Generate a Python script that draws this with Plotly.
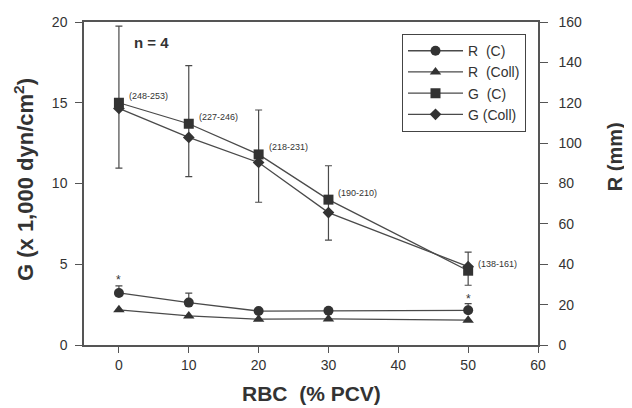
import plotly.graph_objects as go
from plotly.subplots import make_subplots

# ---- data ----
rbc = [0, 10, 20, 30, 50]
g_c = [15.0, 13.7, 11.8, 9.0, 4.6]
g_c_err_plus = [4.75, 3.6, 2.75, 2.1, 1.15]
g_c_err_minus = [4.05, 3.27, 2.96, 2.5, 0.9]
g_coll = [14.65, 12.85, 11.3, 8.2, 4.85]
r_c = [25.8, 21.0, 16.8, 17.0, 17.2]
r_c_err_plus = [3.5, 4.7, 1.2, 0.0, 3.3]
r_coll = [17.4, 14.4, 12.8, 12.9, 12.3]
range_labels = ["(248-253)", "(227-246)", "(218-231)", "(190-210)", "(138-161)"]
star_x = [0, 50]
star_r = [32.0, 23.0]

x_ticks = [0, 10, 20, 30, 40, 50, 60]
g_ticks = [0, 5, 10, 15, 20]
r_ticks = [0, 20, 40, 60, 80, 100, 120, 140, 160]

INK = "#333333"
LINE = "#4a4a4a"
FONT = "Liberation Sans, Arial, Helvetica, sans-serif"
NB = "\u00a0"

fig = make_subplots(specs=[[{"secondary_y": True}]])

fig.add_trace(go.Scatter(
    x=rbc, y=r_c, name=f"R{NB}{NB}(C)", mode="lines+markers",
    line=dict(color=LINE, width=1.3),
    marker=dict(symbol="circle", size=10, color=INK),
    error_y=dict(type="data", symmetric=False, array=r_c_err_plus,
                 arrayminus=[0] * len(r_c), color=LINE, thickness=1.2, width=3.5),
), secondary_y=True)

fig.add_trace(go.Scatter(
    x=rbc, y=r_coll, name=f"R{NB}{NB}(Coll)", mode="lines+markers",
    line=dict(color=LINE, width=1.3),
    marker=dict(symbol="triangle-up", size=10, color=INK),
), secondary_y=True)

fig.add_trace(go.Scatter(
    x=rbc, y=g_c, name=f"G{NB}{NB}(C)", mode="lines+markers",
    line=dict(color=LINE, width=1.3),
    marker=dict(symbol="square", size=10, color=INK),
    error_y=dict(type="data", symmetric=False, array=g_c_err_plus,
                 arrayminus=g_c_err_minus, color=LINE, thickness=1.2, width=3.5),
), secondary_y=False)

fig.add_trace(go.Scatter(
    x=rbc, y=g_coll, name=f"G{NB}(Coll)", mode="lines+markers",
    line=dict(color=LINE, width=1.3),
    marker=dict(symbol="diamond", size=9, color=INK),
), secondary_y=False)

def title_font(size):
    return dict(family=FONT, size=size, color=INK, weight="bold")

annotations = []
for xv, yv, lab in zip(rbc, g_c, range_labels):
    annotations.append(dict(
        x=xv, y=yv, xref="x", yref="y", text=lab, showarrow=False,
        xanchor="left", yanchor="middle", xshift=8, yshift=7,
        font=dict(family=FONT, size=9, color=INK)))
for xv, yv in zip(star_x, star_r):
    annotations.append(dict(
        x=xv, y=yv, xref="x", yref="y2", text="*", showarrow=False,
        xanchor="center", yanchor="middle",
        font=dict(family=FONT, size=12, color=INK)))
annotations += [
    dict(x=0.105, y=0.935, xref="paper", yref="paper", text="<b>n = 4</b>",
         showarrow=False, xanchor="left", yanchor="middle",
         font=dict(family=FONT, size=15, color=INK)),
    dict(x=-0.132, y=0.511, xref="paper", yref="paper",
         text="G (x 1,000 dyn/cm<sup>2</sup>)", textangle=-90, showarrow=False,
         xanchor="center", yanchor="middle", font=title_font(22)),
    dict(x=1.17, y=0.582, xref="paper", yref="paper",
         text="R (mm)", textangle=-90, showarrow=False,
         xanchor="center", yanchor="middle", font=title_font(20)),
    dict(x=0.502, y=-0.149, xref="paper", yref="paper",
         text="RBC" + NB + NB + "(% PCV)", showarrow=False,
         xanchor="center", yanchor="middle", font=title_font(21)),
]
fig.update_layout(annotations=annotations)

axis_common = dict(
    showline=True, linecolor="#555555", linewidth=1.5,
    ticks="outside", tickcolor="#555555", tickwidth=1.2,
    showgrid=False, zeroline=False, automargin=False,
    tickfont=dict(family=FONT, size=14, color=INK),
)

fig.update_xaxes(range=[-5, 60], tickvals=x_ticks, mirror=True, ticklen=6,
                 domain=[0, 1], **axis_common)
fig.update_yaxes(range=[0, 20], tickvals=g_ticks, secondary_y=False, ticklen=7,
                 ticklabelstandoff=5, domain=[0, 1], **axis_common)
fig.update_yaxes(range=[0, 160], tickvals=r_ticks, secondary_y=True, ticklen=8,
                 ticklabelstandoff=8, **axis_common)

# the page body adds an 8 px margin, so the figure is 8 px smaller on each axis
fig.update_layout(
    width=624, height=400,
    margin=dict(l=76, r=94, t=14, b=63, autoexpand=False),
    paper_bgcolor="white", plot_bgcolor="white",
    font=dict(family=FONT, color=INK),
    showlegend=True,
    legend=dict(
        x=0.70, y=0.963, xanchor="left", yanchor="top",
        bgcolor="white", bordercolor="#444444", borderwidth=1.2,
        font=dict(family=FONT, size=14, color=INK),
        tracegroupgap=0, itemwidth=55,
    ),
)

fig.write_html("out.html")
